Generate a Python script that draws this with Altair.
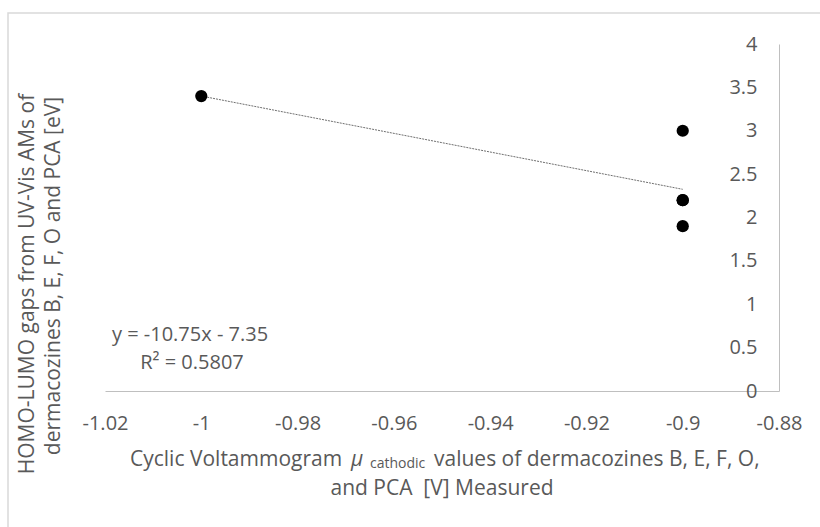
import altair as alt
import pandas as pd

# ---- data ----
x_vals = [-1.0, -0.9, -0.9, -0.9, -0.9]
y_vals = [3.4, 3.0, 2.2, 2.2, 1.9]
x_ticks = [-1.02, -1.0, -0.98, -0.96, -0.94, -0.92, -0.9, -0.88]
y_ticks = [0, 0.5, 1, 1.5, 2, 2.5, 3, 3.5, 4]
eq_lines = ["y = -10.75x - 7.35", "R² = 0.5807"]
y_title = ["HOMO-LUMO gaps from UV-Vis AMs of", "dermacozines B, E, F, O and PCA [eV]"]
x_title_parts = ["Cyclic Voltammogram", "μ", "cathodic", "values of dermacozines B, E, F, O,"]
x_title_line2 = "and PCA\u00a0 [V] Measured"

FONT = "Open Sans"
TXT = "#595959"
AXC = "#bfbfbf"

W, H = 674, 347
PAD = {"left": 105, "top": 44, "right": 41, "bottom": 136}

df = pd.DataFrame({"x": x_vals, "y": y_vals})

xs = alt.Scale(domain=[x_ticks[0], x_ticks[-1]], nice=False, zero=False)
ys = alt.Scale(domain=[y_ticks[0], y_ticks[-1]], nice=False, zero=True)

x_axis = alt.Axis(values=x_ticks, labelExpr="toString(round(datum.value*100)/100)",
                  title=None, grid=False, ticks=False, tickSize=0, domainColor=AXC,
                  labelColor=TXT, labelFont=FONT, labelFontSize=20, labelPadding=22,
                  labelFlush=False)
y_axis = alt.Axis(orient="left", offset=-W, values=y_ticks,
                  labelExpr="toString(datum.value)",
                  title=None, grid=False, ticks=False, tickSize=0, domainColor=AXC,
                  labelColor=TXT, labelFont=FONT, labelFontSize=20, labelPadding=22,
                  labelFlush=False)

base = alt.Chart(df)

points = base.mark_circle(size=150, color="black", opacity=1).encode(
    x=alt.X("x:Q", scale=xs, axis=x_axis),
    y=alt.Y("y:Q", scale=ys, axis=y_axis),
)

trend = base.transform_regression("x", "y", extent=[-1.0, -0.9]).mark_line(
    color="#6f6f6f", strokeWidth=1, strokeDash=[2, 1]
).encode(x=alt.X("x:Q", scale=xs), y=alt.Y("y:Q", scale=ys))

one = pd.DataFrame({"k": [0]})


def txt(text, x, y, size=20, align="center", angle=0, style="normal", baseline="middle"):
    return alt.Chart(one).mark_text(
        text=text, font=FONT, fontSize=size, color=TXT, align=align,
        baseline=baseline, angle=angle, fontStyle=style
    ).encode(x=alt.value(x), y=alt.value(y))


L, T = PAD["left"], PAD["top"]

eq1 = txt(eq_lines[0], 190 - L, 335 - T)
eq2 = txt(eq_lines[1], 192 - L, 363 - T)

yt1 = txt(y_title[0], 28 - L, 284 - T, size=21, angle=270)
yt2 = txt(y_title[1], 54 - L, 276 - T, size=21, angle=270)

xt_a = txt(x_title_parts[0], 130 - L, 460 - T, size=21, align="left")
xt_mu = txt(x_title_parts[1], 357 - L, 460 - T, size=21, style="italic")
xt_sub = txt(x_title_parts[2], 370 - L, 464 - T, size=14, align="left")
xt_b = txt(x_title_parts[3], 434 - L, 460 - T, size=21, align="left")
xt_2 = txt(x_title_line2, 442 - L, 489 - T, size=21)

border = alt.Chart(one).mark_rect(fill=None, fillOpacity=0, stroke="#d9d9d9", strokeWidth=1.5).encode(
    x=alt.value(8 - L), x2=alt.value(840 - L), y=alt.value(13 - T), y2=alt.value(560 - T)
)

chart = alt.layer(
    border, trend, points, eq1, eq2, yt1, yt2, xt_a, xt_mu, xt_sub, xt_b, xt_2
).properties(
    width=W, height=H, autosize="none", padding=PAD, background="white"
).configure_view(stroke=None)

chart.save("out.html", embed_options={"renderer": "svg", "actions": False})
